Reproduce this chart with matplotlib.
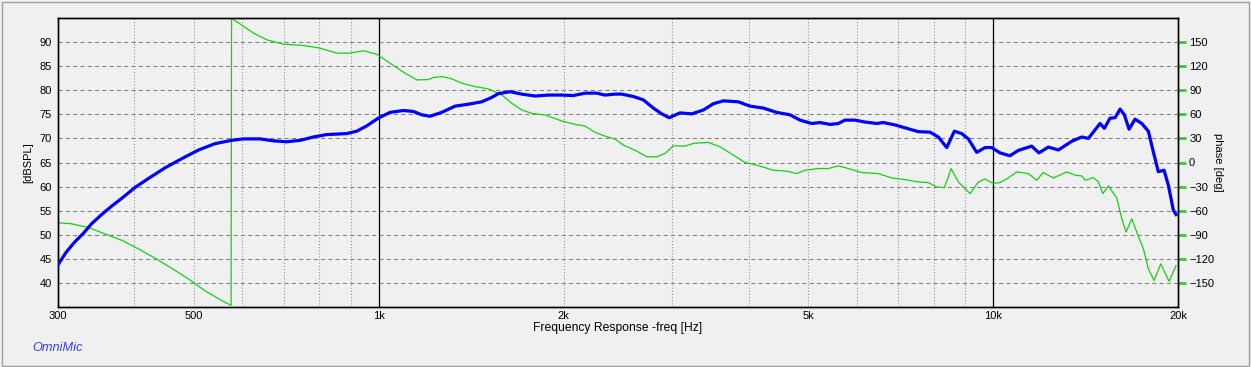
import matplotlib
matplotlib.use("Agg")
import matplotlib.pyplot as plt
from matplotlib.patches import Rectangle
from matplotlib.ticker import NullLocator, NullFormatter

# --- datos (OmniMic) ---
freq_spl = [300, 310, 320, 330, 341, 354, 368, 382, 401, 422, 449, 478, 509, 541, 576, 602,
            641, 674, 708, 745, 783, 823, 887, 921, 956, 998, 1043, 1097, 1138, 1175, 1212,
            1266, 1331, 1399, 1471, 1527, 1566, 1636, 1709, 1797, 1888, 1986, 2074, 2167, 2264,
            2335, 2425, 2486, 2597, 2696, 2799, 2888, 2971, 3093, 3232, 3376, 3505, 3638, 3849,
            4021, 4227, 4445, 4672, 4850, 5068, 5228, 5428, 5599, 5741, 5960, 6188, 6466, 6627,
            6925, 7189, 7557, 7895, 8145, 8406, 8649, 8892, 9115, 9406, 9703, 9950, 10262, 10653,
            10990, 11556, 11876, 12303, 12773, 13431, 13944, 14293, 14933, 15176, 15503, 15797,
            16096, 16357, 16648, 17027, 17459, 17896, 18234, 18579, 18980, 19289, 19654, 19853]
spl_db = [43.6, 46.4, 48.5, 50.2, 52.3, 54.2, 56.0, 57.6, 59.8, 61.7, 63.9, 65.8, 67.6, 68.9, 69.6, 69.9,
          69.9, 69.5, 69.3, 69.6, 70.3, 70.8, 71.0, 71.5, 72.6, 74.2, 75.4, 75.8, 75.6, 74.9, 74.6,
          75.4, 76.7, 77.1, 77.6, 78.5, 79.3, 79.7, 79.2, 78.8, 79.0, 79.0, 78.9, 79.4, 79.4,
          79.0, 79.2, 79.2, 78.7, 78.0, 76.3, 75.1, 74.3, 75.3, 75.1, 75.9, 77.2, 77.8, 77.6,
          76.7, 76.3, 75.4, 74.9, 73.8, 73.1, 73.3, 72.9, 73.1, 73.8, 73.8, 73.4, 73.1, 73.3,
          72.8, 72.2, 71.4, 71.3, 70.3, 68.1, 71.5, 71.0, 69.9, 67.1, 68.1, 68.1, 67.0, 66.4,
          67.5, 68.4, 67.0, 68.2, 67.6, 69.4, 70.3, 70.0, 73.1, 72.1, 74.2, 74.3,
          76.1, 74.9, 71.9, 74.0, 73.1, 71.5, 67.2, 63.1, 63.4, 60.3, 55.1, 54.2]

freq_phase = [300, 316, 337, 358, 382, 406, 432, 460, 490, 521, 555, 575, 576, 580, 595, 625,
              657, 699, 754, 802, 854, 898, 944, 992, 1043, 1097, 1153, 1204, 1227, 1266, 1315,
              1365, 1435, 1508, 1586, 1646, 1709, 1774, 1865, 1986, 2087, 2167, 2250, 2335, 2425,
              2501, 2630, 2730, 2835, 2924, 3016, 3151, 3251, 3439, 3594, 3777, 3947, 4124, 4388,
              4614, 4790, 4942, 5194, 5393, 5599, 5813, 6112, 6505, 6839, 7189, 7557, 7845, 8096,
              8330, 8437, 8542, 8779, 9173, 9463, 9703, 10009, 10262, 10586, 10925, 11410, 11775,
              12069, 12535, 13181, 13598, 13944, 14118, 14564, 14840, 15085, 15405, 15897, 16199,
              16462, 16817, 17136, 17565, 17896, 18282, 18747, 19340, 19853]
phase_deg = [-75, -76.3, -81, -88.8, -97, -107.5, -119, -131.7, -145, -159.6, -172, -178, 180, 178, 172.5, 161.3,
             152.9, 147.5, 145.8, 142.5, 136.3, 136.3, 139.2, 135, 123.8, 112.5, 102.9, 103.3, 105.8, 107.1, 104.2,
             98.8, 94.6, 91.7, 84.2, 73.8, 65.4, 61.3, 59.2, 51.7, 47.5, 45.4, 37.5, 32.9, 29.2,
             21.7, 14.2, 7.1, 7.1, 11.3, 20.8, 20.4, 23.8, 25, 19.6, 9.2, 0, -3.3, -9.6,
             -10.8, -13.8, -9.6, -7.5, -7.5, -4.2, -7.5, -12.5, -13.8, -19.2, -21.3, -24.2, -25, -30.4,
             -31.3, -20, -7.5, -24.2, -38.8, -24.2, -20.5, -26.3, -25, -19.2, -11.7, -13.8, -22.1,
             -12.5, -19.2, -11.7, -15.8, -16.7, -22.1, -18.8, -24.2, -38.8, -29.2, -44.2, -70,
             -86.7, -70, -86.7, -107.5, -132.5, -147, -126.3, -148, -128.3]

x_ticks = [300, 500, 1000, 2000, 5000, 10000, 20000]
x_labels = ['300', '500', '1k', '2k', '5k', '10k', '20k']
spl_ticks = [40, 45, 50, 55, 60, 65, 70, 75, 80, 85, 90]
phase_ticks = [-150, -120, -90, -60, -30, 0, 30, 60, 90, 120, 150]
minor_lines = [400, 500, 600, 700, 800, 900, 2000, 3000, 4000, 5000, 6000, 7000, 8000, 9000]
decade_lines = [1000, 10000]

plt.rcParams['font.family'] = ['Liberation Sans', 'DejaVu Sans']

W, H = 1251, 367
fig = plt.figure(figsize=(W / 100, H / 100), dpi=100, facecolor='#F0F0F0')
fig.add_artist(Rectangle((1.5 / W, 1.5 / H), 1247.5 / W, 364 / H, transform=fig.transFigure,
                         fill=False, edgecolor='#A0A0A0', lw=1.0))

ax = fig.add_axes([57.5 / W, 60 / H, 1120.5 / W, 289 / H])
ax2 = ax.twinx()

# ax2 (fase) queda al fondo con el color cian y la rejilla; ax (SPL) encima
ax.set_zorder(ax2.get_zorder() + 1)
ax.patch.set_visible(False)
ax2.set_facecolor('#D6F5F5')
ax2.set_axisbelow(True)

ax.set_xscale('log')
ax.set_xlim(300, 20000)
ax.set_ylim(35, 95)
ax2.set_ylim(-180, 180)

# rejilla
for f in minor_lines:
    ax2.axvline(f, color='#8C8C8C', lw=0.75, ls=(0, (1, 2)), zorder=0.5)
for f in decade_lines:
    ax2.axvline(f, color='black', lw=0.9, zorder=0.6)
for p in phase_ticks:
    ax2.axhline(p, color='#808080', lw=0.75, ls=(0, (4, 3)), zorder=0.5)

# curvas
ax2.plot(freq_phase, phase_deg, color='#16D016', lw=0.9, zorder=2)
ax.plot(freq_spl, spl_db, color='#0000FF', lw=2.3, zorder=3)

# ejes
ax.set_xticks(x_ticks)
ax.set_xticklabels(x_labels)
ax.xaxis.set_minor_locator(NullLocator())
ax.xaxis.set_minor_formatter(NullFormatter())
ax.tick_params(axis='x', length=0, pad=3, labelsize=8)
ax.set_yticks(spl_ticks)
ax.tick_params(axis='y', length=0, pad=4, labelsize=8)
ax2.set_yticks(phase_ticks)
ax2.tick_params(axis='y', length=6, width=2, color='#3CC83C', pad=2, labelsize=8)

for a in (ax, ax2):
    for s in a.spines.values():
        s.set_color('black')
        s.set_linewidth(1.0)

ax.set_ylabel('[dBSPL]', fontsize=8)
ax.yaxis.set_label_coords((33 - 57.5) / 1120.5, 0.5)
ax2.set_ylabel('phase [deg]', fontsize=8, rotation=270, va='center')
ax2.yaxis.set_label_coords((1218 - 57.5) / 1120.5, 0.5)

fig.text(617.75 / W, 1 - 328 / H, 'Frequency Response -freq [Hz]', ha='center', va='center', fontsize=8.7)
fig.text(32 / W, 1 - 348 / H, 'OmniMic', ha='left', va='center', fontsize=9.2,
         style='italic', color='#3A3AFF')

fig.savefig('out.png', dpi=100, facecolor=fig.get_facecolor())
